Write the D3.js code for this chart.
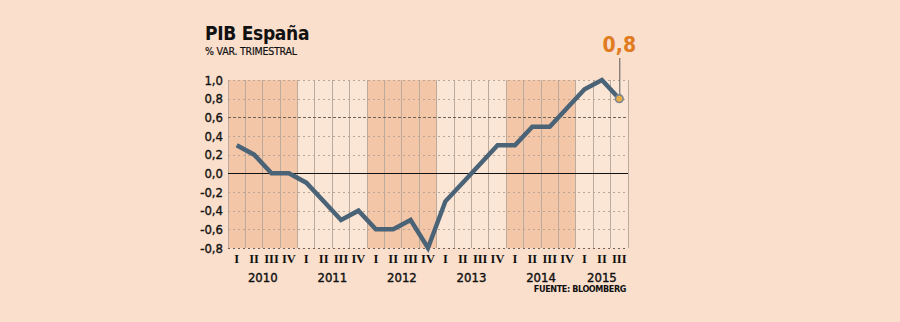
<!DOCTYPE html>
<html><head><meta charset="utf-8">
<script src="https://cdn.jsdelivr.net/npm/d3@7"></script>
<style>
html,body{margin:0;padding:0;background:#f9dfcc;}
svg{display:block;}
</style></head>
<body>
<svg id="c" width="900" height="322"></svg>
<script>
const years = ["2010","2011","2012","2013","2014","2015"];
const quarterNames = ["I","II","III","IV"];
const quarters = ["2010-I","2010-II","2010-III","2010-IV","2011-I","2011-II","2011-III","2011-IV","2012-I","2012-II","2012-III","2012-IV","2013-I","2013-II","2013-III","2013-IV","2014-I","2014-II","2014-III","2014-IV","2015-I","2015-II","2015-III"];
const values = [0.3,0.2,0.0,0.0,-0.1,-0.3,-0.5,-0.4,-0.6,-0.6,-0.5,-0.8,-0.3,-0.1,0.1,0.3,0.3,0.5,0.5,0.7,0.9,1.0,0.8];
const yTicks = [1.0,0.8,0.6,0.4,0.2,0.0,-0.2,-0.4,-0.6,-0.8];
const shadedYears = ["2010","2012","2014"];

const SANS = "'DejaVu Sans Condensed', 'DejaVu Sans', sans-serif";
const svg = d3.select("#c");
const L = 228, R = 628, T = 80, B = 248;
const x = d3.scaleBand().domain(quarters).range([L, R]).padding(0);
const y = d3.scaleLinear().domain([-0.8, 1.0]).range([B, T]);
const fmt = v => d3.format(".1f")(v).replace(".", ",").replace("−","-");

// year bands
years.forEach(yr => {
  const qs = quarters.filter(q => q.startsWith(yr));
  const x0 = x(qs[0]), x1 = x(qs[qs.length-1]) + x.bandwidth();
  svg.append("rect").attr("x", x0).attr("y", T).attr("width", x1 - x0).attr("height", B - T)
    .attr("fill", shadedYears.includes(yr) ? "#f3c6a7" : "#fbe6d6");
});

// vertical grid lines at quarter boundaries
const bounds = quarters.map(q => x(q)).concat([R]);
svg.append("g").selectAll("line").data(bounds).join("line")
  .attr("x1", d => d).attr("x2", d => d).attr("y1", T).attr("y2", B)
  .attr("stroke", "#bcaa9c").attr("stroke-width", 1)
  .attr("shape-rendering", "crispEdges");

// horizontal grid
svg.append("g").selectAll("line").data(yTicks.filter(v => v !== 0)).join("line")
  .attr("x1", L).attr("x2", R).attr("y1", d => Math.round(y(d)) + 0.5).attr("y2", d => Math.round(y(d)) + 0.5)
  .attr("stroke", d => (Math.abs(d - 0.6) < 1e-9 || Math.abs(d + 0.8) < 1e-9) ? "#6e6258" : "#b9a596")
  .attr("stroke-dasharray", d => Math.abs(d - 0.6) < 1e-9 ? "3,2" : "2,3")
  .attr("stroke-width", 1);
svg.append("line").attr("x1", L).attr("x2", R)
  .attr("y1", Math.round(y(0)) + 0.5).attr("y2", Math.round(y(0)) + 0.5)
  .attr("stroke", "#111").attr("stroke-width", 1);

// y axis labels
const yAxis = d3.axisLeft(y).tickValues(yTicks).tickSize(0).tickPadding(5).tickFormat(fmt);
const gy = svg.append("g").attr("transform", `translate(${L},0)`).call(yAxis);
gy.select(".domain").remove();
gy.selectAll("text").attr("font-family", SANS)
  .attr("font-size", 13).attr("fill", "#111").attr("font-weight", "normal")
  .attr("stroke", "#111").attr("stroke-width", 0.35);

// x axis: quarter labels
const xAxis = d3.axisBottom(x).tickSize(0).tickPadding(6).tickFormat(d => d.split("-")[1]);
const gx = svg.append("g").attr("transform", `translate(0,${B})`).call(xAxis);
gx.select(".domain").remove();
gx.selectAll("text").attr("font-family", "'Liberation Serif', 'DejaVu Serif', serif")
  .attr("font-size", 12.5).attr("font-weight", "bold").attr("fill", "#111");

// year labels
years.forEach(yr => {
  const qs = quarters.filter(q => q.startsWith(yr));
  const cx = (x(qs[0]) + x(qs[qs.length-1]) + x.bandwidth()) / 2;
  const cxx = yr === "2015" ? x(qs[1]) + x.bandwidth()/2 : cx;
  svg.append("text").attr("x", cxx).attr("y", 282).attr("text-anchor", "middle")
    .attr("font-family", SANS).attr("font-size", 13)
    .attr("font-weight", "normal").attr("fill", "#111")
    .attr("stroke", "#111").attr("stroke-width", 0.4).text(yr);
});

// line
const line = d3.line().x((d, i) => x(quarters[i]) + x.bandwidth()/2).y(d => y(d));
svg.append("path").datum(values).attr("d", line).attr("fill", "none")
  .attr("stroke", "#4b6377").attr("stroke-width", 4.5).attr("stroke-linejoin", "miter");

// last point highlight
const li = values.length - 1;
const lx = x(quarters[li]) + x.bandwidth()/2, ly = y(values[li]);
svg.append("line").attr("x1", lx + 0.5).attr("x2", lx + 0.5).attr("y1", 58).attr("y2", ly)
  .attr("stroke", "#5a5a5a").attr("stroke-width", 1);
svg.append("circle").attr("cx", lx).attr("cy", ly).attr("r", 3.8)
  .attr("fill", "#e9ad45").attr("stroke", "#7a8590").attr("stroke-width", 1.6);
svg.append("text").attr("x", lx).attr("y", 52).attr("text-anchor", "middle")
  .attr("font-family", SANS).attr("font-size", 21)
  .attr("font-weight", "bold").attr("fill", "#e07b22").text(fmt(values[li]));

// titles
svg.append("text").attr("x", 205).attr("y", 40)
  .attr("font-family", SANS).attr("font-size", 19)
  .attr("font-weight", "bold").attr("fill", "#111").attr("letter-spacing", -0.3).text("PIB España");
svg.append("text").attr("x", 205).attr("y", 55)
  .attr("font-family", SANS).attr("font-size", 10.5)
  .attr("fill", "#111").attr("letter-spacing", -0.2)
  .attr("stroke", "#111").attr("stroke-width", 0.2).text("% VAR. TRIMESTRAL");
svg.append("text").attr("x", 626).attr("y", 292).attr("text-anchor", "end")
  .attr("font-family", SANS).attr("font-size", 9)
  .attr("font-weight", "bold").attr("fill", "#111").attr("letter-spacing", -0.4).text("FUENTE: BLOOMBERG");
</script>
</body></html>
